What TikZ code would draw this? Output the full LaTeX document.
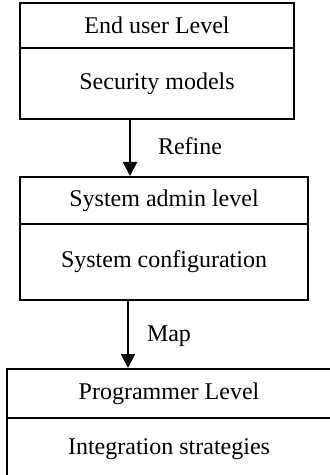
\documentclass[tikz,border=0pt]{standalone}
\usepackage{fontspec}
\setmainfont{Liberation Serif}
\usetikzlibrary{arrows.meta, positioning}

\begin{document}
\begin{tikzpicture}[
    x=0.5pt, y=-0.5pt,
    lvltitle/.style={draw, line width=1pt, rectangle, inner sep=0pt,
                     font=\fontsize{12}{14}\selectfont},
    lvlbody/.style={lvltitle},
    lvlarrow/.style={-{Triangle[width=7pt, length=7pt]}, line width=1pt},
    lvllabel/.style={font=\fontsize{12}{14}\selectfont, inner sep=0pt},
]
\useasboundingbox (0,0) rectangle (330,475);
\clip (0,0) rectangle (330,475);

% --- end user level ---
\node[lvltitle, minimum width=137pt, minimum height=22.5pt] (eu-t) at (157,25.5)
    {End user Level};
\node[lvlbody, minimum width=137pt, minimum height=35.5pt, below=-1pt of eu-t] (eu-b)
    {Security models};

% --- system admin level ---
\node[lvltitle, minimum width=144pt, minimum height=23.5pt] (sa-t) at (164,200.5)
    {System admin level};
\node[lvlbody, minimum width=144pt, minimum height=38pt, below=-1pt of sa-t] (sa-b)
    {System configuration};

% --- programmer level ---
\node[lvltitle, minimum width=162pt, minimum height=24.5pt] (pg-t) at (169,393.5)
    {Programmer Level};
\node[lvlbody, minimum width=162pt, minimum height=31pt, below=-1pt of pg-t] (pg-b)
    {Integration strategies};

% arrows between the levels
\draw[lvlarrow] (eu-b.south -| 130,0) -- (sa-t.north -| 130,0);
\node[lvllabel] (refine) at (190,146) {Refine};

\draw[lvlarrow] (sa-b.south -| 128,0) -- (pg-t.north -| 128,0);
\node[lvllabel] (map) at (169,336) {Map};
\end{tikzpicture}
\end{document}
